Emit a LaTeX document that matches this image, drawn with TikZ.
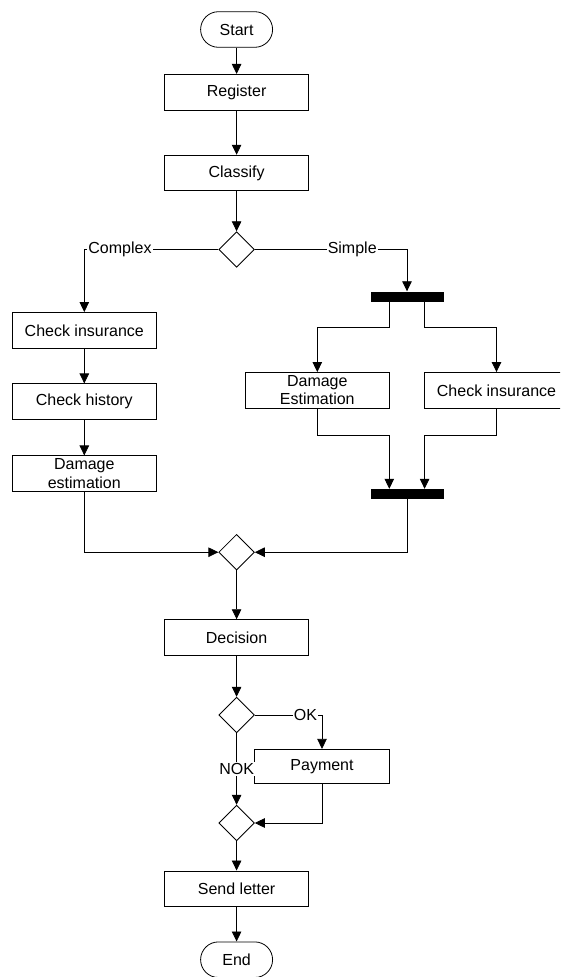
\documentclass[tikz,border=0pt]{standalone}
\usepackage{fontspec}
\setmainfont{Liberation Sans}
\usetikzlibrary{shapes.geometric,arrows.meta}
\begin{document}
\begin{tikzpicture}[x=1pt,y=-1pt,
  every node/.style={font=\fontsize{16}{18.5}\selectfont},
  line/.style={line width=0.8pt,draw=black},
  arr/.style={line, -{Triangle[length=10pt,width=9.5pt]}},
  box/.style={rectangle,draw=black,line width=0.8pt,minimum width=143.6pt,minimum height=35.7pt,inner sep=0pt,align=center},
  term/.style={rectangle,rounded corners=17.8pt,draw=black,line width=0.8pt,minimum width=72pt,minimum height=35.6pt,inner sep=0pt},
  gate/.style={diamond,draw=black,line width=0.8pt,minimum width=35.6pt,minimum height=35.6pt,inner sep=0pt,aspect=1},
  bar/.style={rectangle,fill=black,minimum width=73pt,minimum height=10pt,inner sep=0pt},
  lbl/.style={fill=white,inner sep=1pt}]
\useasboundingbox (0,0) rectangle (560,977);
\clip (0,0) rectangle (560,977);

\node[term] (start) at (236.6,29.5) {Start};
\node[box] (register) at (236.6,92.2) {Register};
\node[box] (classify) at (236.6,173) {Classify};
\node[gate] (d1) at (236.6,249.5) {};
\node[box] (ci1) at (84.3,330.3) {Check insurance};
\node[box] (ch) at (84.3,401.7) {Check history};
\node[box] (de1) at (84.3,473.7) {Damage\\estimation};
\node[bar] (bar1) at (407,296.5) {};
\node[box] (de2) at (317.3,390.3) {Damage\\Estimation};
\node[box] (ci2) at (496.5,390.3) {Check insurance};
\node[bar] (bar2) at (407,494) {};
\node[gate] (d2) at (236.6,552.2) {};
\node[box] (decision) at (236.6,637.5) {Decision};
\node[gate] (d3) at (236.6,715) {};
\node[box,minimum width=134.6pt,minimum height=34pt] (payment) at (322,766.3) {Payment};
\node[gate] (d4) at (236.6,823) {};
\node[box] (send) at (236.6,888.8) {Send letter};
\node[term] (end) at (236.6,959.7) {End};

\draw[arr] (start) -- (register);
\draw[arr] (register) -- (classify);
\draw[arr] (classify) -- (d1);
\draw[arr] (d1.west) -| node[lbl,pos=0.367] {Complex} (ci1.north);
\draw[arr] (d1.east) -| node[lbl,pos=0.32] {Simple} (bar1.north);
\draw[arr] (ci1) -- (ch);
\draw[arr] (ch) -- (de1);
\draw[arr] ([xshift=-17.7pt]bar1.south) |- (317.3,327.7) -- (de2.north);
\draw[arr] ([xshift=17.6pt]bar1.south) |- (496.5,327.7) -- (ci2.north);
\draw[arr] (de2.south) |- (389.3,435) -- ([xshift=-17.7pt]bar2.north);
\draw[arr] (ci2.south) |- (424.6,435) -- ([xshift=17.6pt]bar2.north);
\draw[arr] (bar2.south) |- (d2.east);
\draw[arr] (de1.south) |- (d2.west);
\draw[arr] (d2) -- (decision);
\draw[arr] (decision) -- (d3);
\draw[arr] (d3.east) -| node[lbl,pos=0.377] {OK} (payment.north);
\draw[arr] (d3.south) -- node[lbl] {NOK} (d4.north);
\draw[arr] (payment.south) |- (d4.east);
\draw[arr] (d4) -- (send);
\draw[arr] (send) -- (end);
\end{tikzpicture}
\end{document}
